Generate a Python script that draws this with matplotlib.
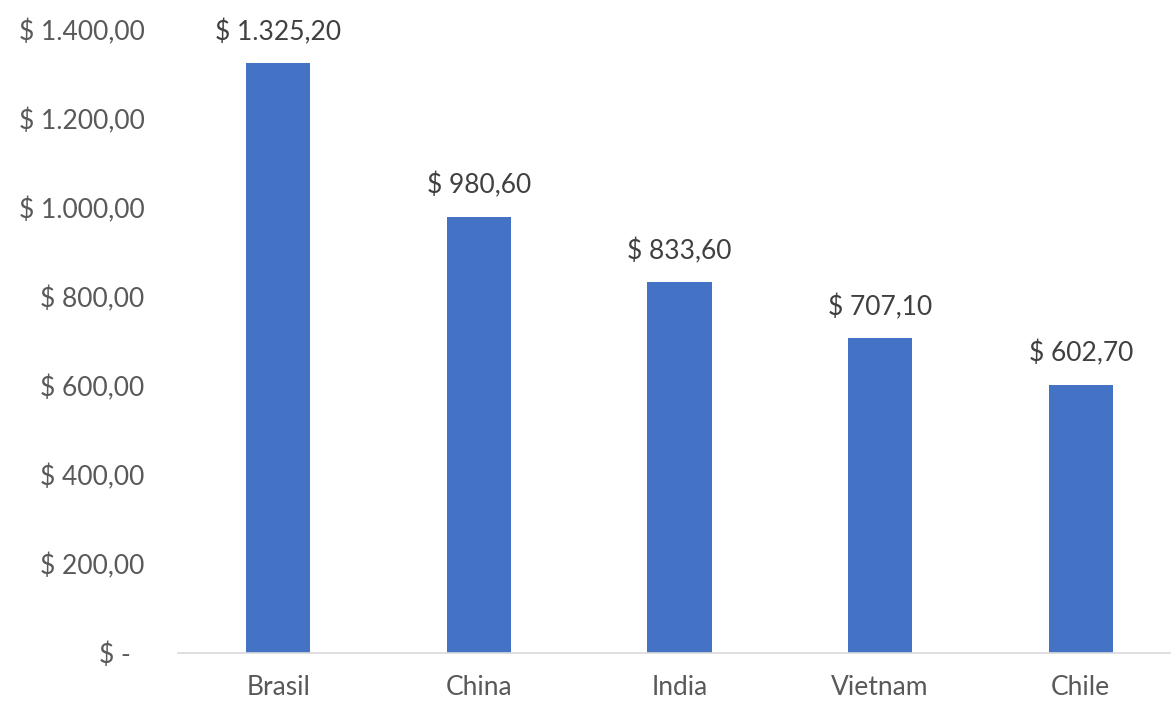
import matplotlib.pyplot as plt
from matplotlib.ticker import FuncFormatter

plt.rcParams['font.family'] = ['Lato', 'DejaVu Sans']

paises = ['Brasil', 'China', 'India', 'Vietnam', 'Chile']
valores = [1325.20, 980.60, 833.60, 707.10, 602.70]
yticks = [0, 200, 400, 600, 800, 1000, 1200, 1400]

gris = '#595959'


def moneda(v, pos=None):
    """Formato contable: $ 1.234,56"""
    if v == 0:
        return '$ -  '
    s = f'{v:,.2f}'.replace(',', 'X').replace('.', ',').replace('X', '.')
    return f'$ {s}'


fig = plt.figure(figsize=(11.71, 7.02), dpi=100)
ax = fig.add_axes([0.152, 0.0698, 0.848, 0.8875])

x = range(len(paises))
barras = ax.bar(x, valores, width=0.32, color='#4472C4')

for b, v in zip(barras, valores):
    ax.annotate(moneda(v), (b.get_x() + b.get_width() / 2, v),
                xytext=(0, 13), textcoords='offset points',
                ha='center', va='bottom', fontsize=19, color='#404040')

ax.set_xlim(-0.5, 4.45)
ax.set_ylim(0, 1400)
ax.set_yticks(yticks)
ax.yaxis.set_major_formatter(FuncFormatter(moneda))
ax.set_xticks(list(x))
ax.set_xticklabels(paises)

ax.tick_params(axis='y', length=0, pad=24, labelsize=19, labelcolor=gris)
ax.tick_params(axis='x', length=0, pad=16, labelsize=19, labelcolor=gris)

for lado in ['top', 'right', 'left']:
    ax.spines[lado].set_visible(False)
ax.spines['bottom'].set_color('#D9D9D9')
ax.spines['bottom'].set_linewidth(1.2)

fig.savefig('out.png', dpi=100)
